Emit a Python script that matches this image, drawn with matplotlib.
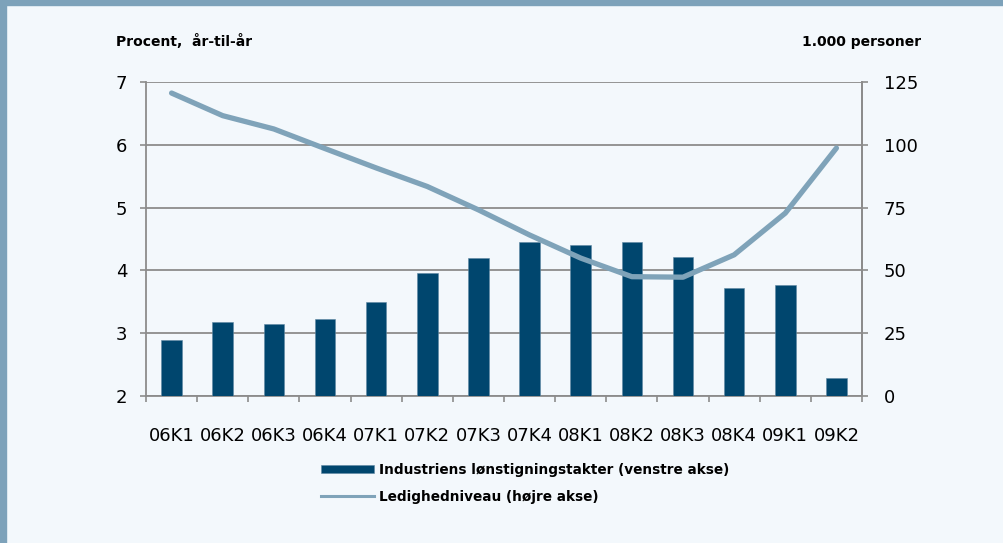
import matplotlib.pyplot as plt
from matplotlib.patches import Rectangle
from matplotlib.lines import Line2D
import numpy as np

plt.rcParams['font.family'] = ['DejaVu Sans']

kvartaler = ['06K1', '06K2', '06K3', '06K4', '07K1', '07K2', '07K3',
             '07K4', '08K1', '08K2', '08K3', '08K4', '09K1', '09K2']
loenstigning = [2.89, 3.18, 3.15, 3.22, 3.49, 3.96, 4.20,
                4.45, 4.41, 4.46, 4.22, 3.72, 3.77, 2.29]
ledighed = [120.6, 111.6, 106.3, 98.5, 90.8, 83.4, 74.1,
            64.1, 54.9, 47.5, 47.3, 56.2, 72.8, 98.7]

bg = '#f3f8fc'
ramme = '#7da2ba'
bar_farve = '#00466e'
linje_farve = '#7fa3b9'
grid_farve = '#8c8c8c'

fig = plt.figure(figsize=(10.04, 5.43), dpi=100, facecolor=bg)
W, H = 1004, 543

# ramme: top og venstre kant
fig.patches.append(Rectangle((0, 1 - 5 / H), 1, 5 / H, transform=fig.transFigure,
                             color=ramme, zorder=0))
fig.patches.append(Rectangle((0, 0), 6 / W, 1, transform=fig.transFigure,
                             color=ramme, zorder=0))

ax = fig.add_axes([146 / W, 1 - 396 / H, (862 - 146) / W, (396 - 82) / H])
ax.set_facecolor(bg)
x = np.arange(len(kvartaler))
bars = ax.bar(x, np.array(loenstigning) - 2, bottom=2, width=0.4, color=bar_farve,
              edgecolor='#5f88a3', linewidth=0.4, zorder=3,
              label='Industriens lønstigningstakter (venstre akse)')
ax.set_ylim(2, 7)
ax.set_xlim(-0.5, len(kvartaler) - 0.5)
ax.set_yticks(range(2, 8))
ax.grid(axis='y', color=grid_farve, linewidth=1.3, zorder=1)
ax.set_axisbelow(True)

ax.set_xticks(x)
ax.set_xticklabels(kvartaler)
ax.set_xticks(np.arange(-0.5, len(kvartaler)), minor=True)
ax.tick_params(axis='x', which='major', length=0, pad=22, labelsize=13)
ax.tick_params(axis='x', which='minor', length=4, width=1.2, color=grid_farve)
ax.tick_params(axis='y', length=4.5, width=1.2, color=grid_farve, pad=9, labelsize=13)

ax.spines['top'].set_visible(False)
for side in ['left', 'right', 'bottom']:
    ax.spines[side].set_color(grid_farve)
    ax.spines[side].set_linewidth(1.3)

ax2 = ax.twinx()
ax2.plot(x, ledighed, color=linje_farve, linewidth=3.8, solid_capstyle='round', zorder=4)
ax2.set_ylim(0, 125)
ax2.set_yticks(range(0, 126, 25))
ax2.tick_params(axis='y', length=4.5, width=1.2, color=grid_farve, pad=11, labelsize=13)
for side in ['top', 'left', 'bottom']:
    ax2.spines[side].set_visible(False)
ax2.spines['right'].set_color(grid_farve)
ax2.spines['right'].set_linewidth(1.3)

fig.text(116 / W, 1 - 42 / H, 'Procent,  år-til-år', fontsize=10, fontweight='bold',
         va='center', ha='left')
fig.text(921 / W, 1 - 42 / H, '1.000 personer', fontsize=10, fontweight='bold',
         va='center', ha='right')

linje_handle = Line2D([], [], color=linje_farve, linewidth=2.2)
fig.legend([bars, linje_handle],
           ['Industriens lønstigningstakter (venstre akse)', 'Ledighedniveau (højre akse)'],
           loc='upper left', bbox_to_anchor=(314 / W, 1 - 456 / H), frameon=False,
           borderpad=0, handlelength=3.9, handleheight=0.5, handletextpad=0.35,
           labelspacing=0.95, prop={'weight': 'bold', 'size': 9.8})

fig.savefig('out.png', dpi=100, facecolor=bg)
